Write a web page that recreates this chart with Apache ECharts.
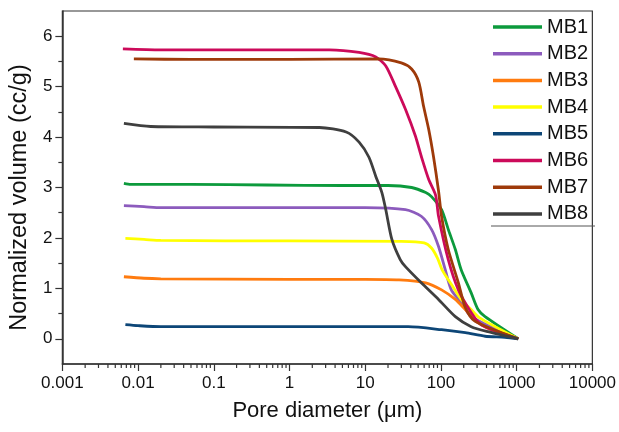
<!DOCTYPE html>
<html><head><meta charset="utf-8">
<script src="https://cdn.jsdelivr.net/npm/echarts@6/dist/echarts.min.js"></script>
<style>html,body{margin:0;padding:0;background:#fff}#c{width:619px;height:432px}</style>
</head><body><div id="c"></div>
<script>
// Data: [pore diameter (µm), normalized volume (cc/g)]
const seriesNames = ['MB1','MB2','MB3','MB4','MB5','MB6','MB7','MB8'];
const mb1 = [[0.0065,3.08],[0.008,3.06],[0.05,3.06],[0.5,3.05],[5,3.04],[20,3.04],[41,3.00],[63,2.90],[75,2.82],[102,2.56],[125,2.17],[155,1.77],[185,1.37],[251,0.91],[309,0.58],[383,0.44],[1050,0]];
const mb2 = [[0.0065,2.64],[0.012,2.62],[0.02,2.60],[1,2.60],[10,2.60],[34,2.56],[55,2.43],[75,2.17],[93,1.83],[114,1.37],[137,0.97],[185,0.72],[251,0.44],[1050,0]];
const mb3 = [[0.0065,1.23],[0.012,1.20],[0.02,1.19],[1,1.18],[10,1.18],[28,1.17],[63,1.11],[102,0.97],[155,0.78],[210,0.58],[309,0.32],[566,0.12],[1050,0]];
const mb4 = [[0.0068,1.99],[0.012,1.97],[0.02,1.95],[1,1.94],[30,1.93],[60,1.90],[75,1.80],[90,1.60],[105,1.35],[137,1.08],[185,0.78],[251,0.58],[320,0.42],[1050,0]];
const mb5 = [[0.0068,0.28],[0.01,0.26],[0.02,0.24],[1,0.24],[37,0.24],[102,0.18],[210,0.12],[383,0.05],[700,0.03],[1050,0]];
const mb6 = [[0.0063,5.75],[0.02,5.73],[1,5.73],[3.35,5.73],[8.3,5.68],[13.8,5.59],[18.7,5.41],[25,5.01],[34,4.55],[46,4.02],[55,3.62],[69,3.16],[85,2.85],[93,2.43],[125,1.57],[170,0.97],[251,0.52],[339,0.28],[1050,0]];
const mb7 = [[0.0088,5.55],[0.05,5.54],[1,5.54],[15,5.55],[30,5.47],[41,5.35],[51,5.09],[59,4.61],[69,4.15],[80,3.60],[93,2.93],[102,2.43],[125,1.77],[170,1.11],[210,0.62],[280,0.35],[1050,0]];
const mb8 = [[0.0065,4.27],[0.0147,4.21],[0.1,4.20],[2.48,4.19],[5.6,4.10],[8.3,3.90],[11.2,3.60],[13.8,3.22],[16.6,2.90],[18.7,2.56],[22.5,1.97],[29,1.57],[34,1.43],[55,1.11],[93,0.78],[155,0.44],[251,0.24],[419,0.14],[1050,0]];
const seriesData = [mb1,mb2,mb3,mb4,mb5,mb6,mb7,mb8];
const colors = ['#0c9a3c','#8c5bbd','#ff7b0f','#ffff00','#0d4677','#cc0a5a','#9e3a0a','#3f3f3f'];
const yMajorTicks = [0,1,2,3,4,5,6];
const yMinorTicks = [0.5,1.5,2.5,3.5,4.5,5.5];
// log-scale minor tick values (2..9 × 10^k)
const xMinorTicks = [];
for (let k = -3; k < 4; k++) for (let m = 2; m <= 9; m++) xMinorTicks.push(+(m * Math.pow(10, k)).toPrecision(3));

const font = 'Arial, "Liberation Sans", sans-serif';
const chart = echarts.init(document.getElementById('c'));
const lineSeries = seriesNames.map((n, i) => ({
  name: n, type: 'line', data: seriesData[i], symbol: 'none', smooth: 0.25,
  lineStyle: { color: colors[i], width: 2.8 }, itemStyle: { color: colors[i] }, z: 3
}));
chart.setOption({
  animation: false,
  textStyle: { fontFamily: font },
  grid: { left: 61, right: 24, top: 11, bottom: 68, show: true, borderColor: '#333', borderWidth: 1.2, containLabel: false },
  legend: {
    data: seriesNames, orient: 'vertical', left: 493, top: 17, icon: 'rect', itemWidth: 49, itemHeight: 3.5, itemGap: 6.7,
    textStyle: { fontSize: 20, color: '#111', fontFamily: font, lineHeight: 20 }, padding: 0
  },
  xAxis: {
    type: 'log', logBase: 10, min: 0.001, max: 10000,
    name: 'Pore diameter (\u03bcm)', nameLocation: 'middle', nameGap: 36,
    nameTextStyle: { fontSize: 22, color: '#111', fontFamily: font },
    axisLine: { onZero: false, lineStyle: { color: '#333', width: 1.5 } },
    axisTick: { show: true, inside: false, length: 7, lineStyle: { color: '#333', width: 1.2 } },
    axisLabel: { fontSize: 17, color: '#111', margin: 11, fontFamily: font,
      formatter: v => String(+v.toPrecision(3)) },
    splitLine: { show: false }, minorTick: { show: false }
  },
  yAxis: [{
    type: 'value', min: -0.5, max: 6.5, interval: 0.5,
    name: 'Normalized volume (cc/g)', nameLocation: 'middle', nameGap: 25, nameRotate: 90,
    nameTextStyle: { fontSize: 23.5, color: '#111', fontFamily: font, padding: [0, 20, 0, 0] },
    axisLine: { show: true, onZero: false, lineStyle: { color: '#333', width: 1.5 } },
    axisTick: { show: true, length: 7, customValues: yMajorTicks, lineStyle: { color: '#333', width: 1.2 } },
    axisLabel: { fontSize: 17, color: '#111', margin: 10, customValues: yMajorTicks, fontFamily: font },
    splitLine: { show: false }
  }, {
    type: 'value', min: -0.5, max: 6.5, interval: 0.5, position: 'left', offset: 0,
    axisLine: { show: false },
    axisTick: { show: true, length: 4, customValues: yMinorTicks, lineStyle: { color: '#333', width: 1.2 } },
    axisLabel: { show: false }, splitLine: { show: false }
  }],
  graphic: [{
    type: 'line', shape: { x1: 491, y1: 226, x2: 595, y2: 226 },
    style: { stroke: '#555', lineWidth: 1 }, z: 10
  }],
  series: lineSeries.concat([{
    type: 'custom', name: 'xminor', silent: true, clip: false, z: 5,
    data: xMinorTicks.map(v => [v, -0.5]),
    encode: { x: 0, y: 1 },
    renderItem: (params, api) => {
      const p = api.coord([api.value(0), api.value(1)]);
      return { type: 'line', shape: { x1: p[0], y1: p[1], x2: p[0], y2: p[1] + 4 },
        style: { stroke: '#333', lineWidth: 1.2 } };
    }
  }])
});
</script></body></html>
